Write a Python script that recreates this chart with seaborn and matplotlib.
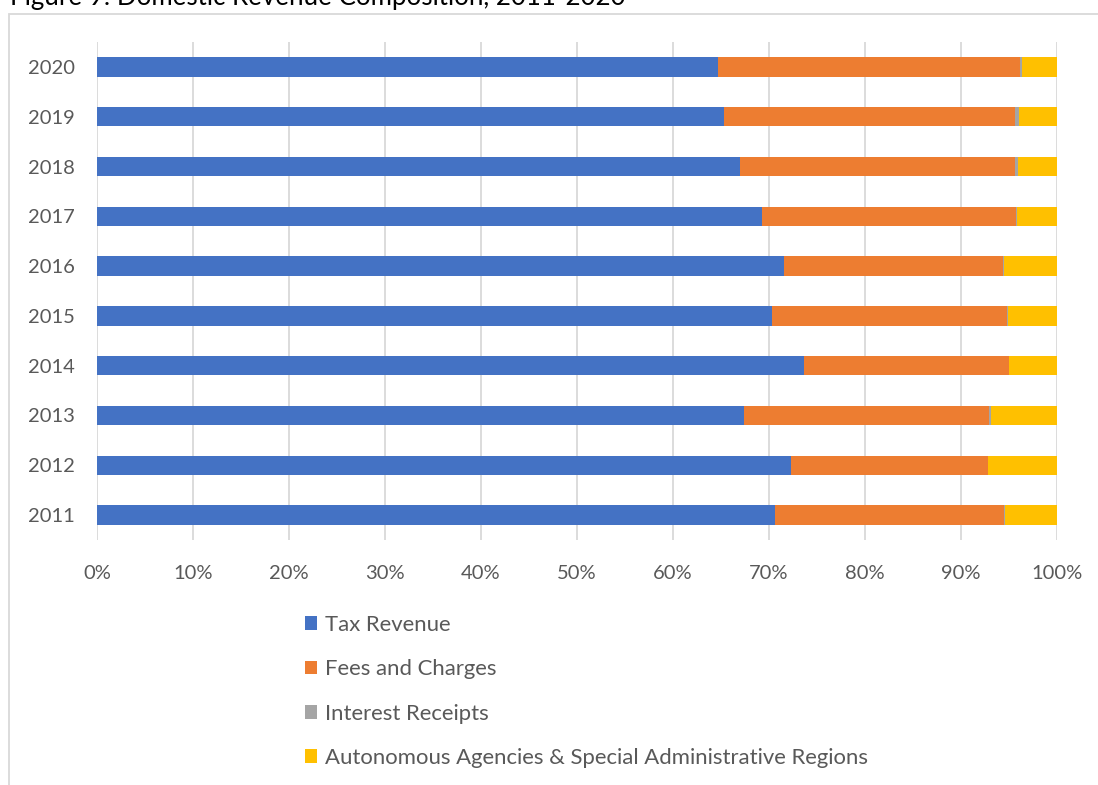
import matplotlib
matplotlib.use("Agg")
import matplotlib.pyplot as plt
from matplotlib.patches import Rectangle, Patch
import seaborn as sns
import pandas as pd

# Share of domestic revenue by source, percent of total
years = ["2020", "2019", "2018", "2017", "2016", "2015", "2014", "2013", "2012", "2011"]
tax_revenue = [64.65, 65.35, 67.0, 69.3, 71.6, 70.3, 73.65, 67.4, 72.3, 70.65]
fees_charges = [31.5, 30.25, 28.6, 26.45, 22.8, 24.5, 21.35, 25.55, 20.5, 23.85]
interest_receipts = [0.25, 0.4, 0.3, 0.05, 0.05, 0.05, 0.05, 0.15, 0.05, 0.05]
autonomous = [3.6, 4.0, 4.1, 4.2, 5.55, 5.15, 4.95, 6.9, 7.15, 5.45]

series_names = ["Tax Revenue", "Fees and Charges", "Interest Receipts",
                "Autonomous Agencies & Special Administrative Regions"]
colors = ["#4472C4", "#ED7D31", "#A5A5A5", "#FFC000"]
xticks = [0, 10, 20, 30, 40, 50, 60, 70, 80, 90, 100]

df = pd.DataFrame({
    "Year": years,
    series_names[0]: tax_revenue,
    series_names[1]: fees_charges,
    series_names[2]: interest_receipts,
    series_names[3]: autonomous,
})
# running totals so that each layer ends where the next source begins
cum = df[series_names].cumsum(axis=1)
cum["Year"] = df["Year"]

sns.set_theme(style="white")
plt.rcParams["font.family"] = ["Lato", "DejaVu Sans"]
text_color = "#595959"

fig = plt.figure(figsize=(10.98, 7.85), dpi=100)
W, H = 1098, 785
ax = fig.add_axes([97 / W, 1 - 540 / H, 960 / W, 498 / H])

# draw the widest layer first, narrower ones on top
for name, col in reversed(list(zip(series_names, colors))):
    sns.barplot(data=cum, x=name, y="Year", order=years, orient="h",
                color=col, width=0.39, saturation=1, linewidth=0, ax=ax,
                zorder=2)

ax.set_xlim(0, 100)
ax.set_ylim(len(years) - 0.5, -0.5)
ax.set_xticks(xticks)
ax.set_xticklabels([f"{v}%" for v in xticks])
ax.xaxis.grid(True, color="#D9D9D9", linewidth=1.3, zorder=0)
ax.set_axisbelow(True)
ax.yaxis.grid(False)
for s in ax.spines.values():
    s.set_visible(False)
ax.set_xlabel("")
ax.set_ylabel("")
ax.tick_params(axis="x", length=0, pad=18, labelsize=14.5, labelcolor=text_color)
ax.tick_params(axis="y", length=0, pad=16, labelsize=14.5, labelcolor=text_color)

handles = [Patch(facecolor=c, edgecolor="none") for c in colors]
fig.legend(handles, series_names, loc="upper left",
           bbox_to_anchor=(305 / W, 1 - 615 / H), frameon=False,
           fontsize=15.9, labelcolor=text_color, handlelength=0.56,
           handleheight=0.56, handletextpad=0.33, labelspacing=1.1,
           borderpad=0, borderaxespad=0)

# chart frame
fig.patches.append(Rectangle((8.5 / W, -0.05), 1.2, 1.05 - 13.5 / H,
                             transform=fig.transFigure, fill=False,
                             edgecolor="#D9D9D9", linewidth=1.3))

fig.text(10 / W, 1 - 5 / H, "Figure 9: Domestic Revenue Composition, 2011-2020",
         fontsize=18.6, color="black", ha="left", va="baseline")

fig.savefig("out.png", dpi=100)
